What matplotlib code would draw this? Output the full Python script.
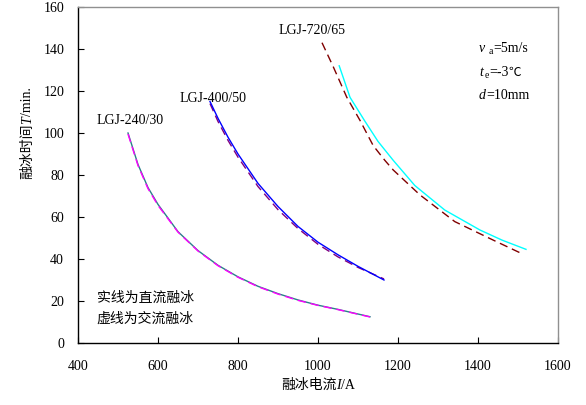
import matplotlib
matplotlib.use("Agg")
import matplotlib.pyplot as plt
from matplotlib.transforms import IdentityTransform

SERIF = ['Liberation Serif', 'Noto Sans CJK SC', 'DejaVu Sans']
CJK = ['Noto Sans CJK SC', 'DejaVu Sans']
plt.rcParams['font.family'] = SERIF

# LGJ-240/30
i240_dc = [525, 550, 575, 600, 650, 700, 750, 800, 850, 900, 950, 1000, 1050, 1100, 1130]
t240_dc = [100, 85, 74, 66, 53, 44, 37, 31.5, 27, 23.5, 20.5, 18, 16, 13.8, 12.5]
i240_ac = [525, 550, 575, 600, 650, 700, 750, 800, 850, 900, 950, 1000, 1050, 1100, 1130]
t240_ac = [99.5, 84.5, 73.5, 65.5, 52.8, 43.8, 36.8, 31.3, 26.8, 23.3, 20.3, 17.9, 15.9, 13.7, 12.4]

# LGJ-400/50
i400_dc = [730, 750, 775, 800, 850, 900, 950, 1000, 1050, 1100, 1165]
t400_dc = [115, 107, 98, 90, 76, 65, 55.5, 48, 42, 36.5, 30]
i400_ac = [730, 750, 775, 800, 850, 900, 950, 1000, 1050, 1100, 1165]
t400_ac = [114, 105.5, 96.5, 88.5, 74.5, 63.5, 54.5, 47, 41, 36, 30.5]

# LGJ-720/65
i720_dc = [1053, 1080, 1116, 1150, 1188, 1242, 1317, 1405, 1460, 1520]
t720_dc = [132, 117, 106, 96, 87, 75, 63.3, 53.8, 49, 44.6]
i720_ac = [1010, 1038, 1072, 1105, 1138, 1167, 1188, 1255, 1342, 1438, 1508]
t720_ac = [143, 131.6, 117, 106, 94, 87, 82.4, 70.5, 57.8, 49, 42.7]

xticks = [400, 600, 800, 1000, 1200, 1400, 1600]
yticks = [0, 20, 40, 60, 80, 100, 120, 140, 160]

W, H = 586, 405
fig = plt.figure(figsize=(W / 100, H / 100), dpi=100)
ax = fig.add_axes([78 / W, 1 - 343 / H, 480 / W, 336 / H])
renderer = fig.canvas.get_renderer()

dash = (0, (6, 3.5))
ax.plot(i240_dc, t240_dc, color='#2a7f8a', lw=1.0)
ax.plot(i240_ac, t240_ac, color='#ff00ff', lw=1.0, linestyle=dash)
ax.plot(i400_ac, t400_ac, color='#800080', lw=1.0, linestyle=dash)
ax.plot(i400_dc, t400_dc, color='#0000ff', lw=1.0)
ax.plot(i720_dc, t720_dc, color='#00ffff', lw=1.0)
ax.plot(i720_ac, t720_ac, color='#800000', lw=1.0, linestyle=dash)

ax.set_xlim(400, 1600)
ax.set_ylim(0, 160)
ax.set_xticks(xticks)
ax.set_yticks(yticks)
ax.tick_params(direction='in', length=4, width=0.8, labelsize=10)
ax.tick_params(axis='x', pad=12)
ax.tick_params(axis='y', pad=10)
for s in ['top', 'right']:
    ax.spines[s].set_color('#909090')
    ax.spines[s].set_linewidth(1.0)
for s in ['left', 'bottom']:
    ax.spines[s].set_color('black')
    ax.spines[s].set_linewidth(1.0)


def rich(x, y, pieces, rotation=0, align='center', fontsize=10):
    """Draw a row of text pieces; x, y in figure pixels (y from top), baseline."""
    y = H - y
    items = []
    total = 0.0
    for p in pieces:
        s = p[0]
        kw = dict(p[1]) if len(p) > 1 else {}
        dy = kw.pop('dy', 0)
        kw.setdefault('fontsize', fontsize)
        kw.setdefault('family', SERIF)
        t = fig.text(0, 0, s, transform=IdentityTransform(), rotation=rotation,
                     rotation_mode='anchor', ha='left', va='baseline', **kw)
        bb = t.get_window_extent(renderer)
        w = bb.height if rotation == 90 else bb.width
        items.append((t, w, dy))
        total += w
    pos = -total / 2 if align == 'center' else 0.0
    for t, w, dy in items:
        if rotation == 90:
            t.set_position((x - dy, y + pos))
        else:
            t.set_position((x + pos, y + dy))
        pos += w


# axis labels
rich(318, 389, [('融冰电流', {'family': CJK}), ('I', {'style': 'italic'}), ('/A',)])
rich(31, 133, [('融冰时间', {'family': CJK}), ('T', {'style': 'italic'}), ('/min.',)], rotation=90)

# curve labels
ax.text(530, 106, 'LGJ-240/30', fontsize=10, ha='center', va='center')
ax.text(737, 116.5, 'LGJ-400/50', fontsize=10, ha='center', va='center')
ax.text(985, 149, 'LGJ-720/65', fontsize=10, ha='center', va='center')

# condition annotation
rich(479, 52, [('v', {'style': 'italic'}), (' ', {}), ('a', {'fontsize': 7, 'dy': -2}), ('=5m/s',)], align='left')
rich(479, 76, [('t', {'style': 'italic'}), (' ', {'fontsize': 5}), ('e', {'fontsize': 7, 'dy': -2}), ('=-3',), ('℃', {'family': CJK, 'fontsize': 9})], align='left')
rich(479, 99, [('d', {'style': 'italic'}), ('=10mm',)], align='left')

ax.text(447, 21.3, '实线为直流融冰', fontsize=10, ha='left', va='center', family=CJK)
ax.text(447, 11.8, '虚线为交流融冰', fontsize=10, ha='left', va='center', family=CJK)

fig.savefig('out.png', dpi=100)
